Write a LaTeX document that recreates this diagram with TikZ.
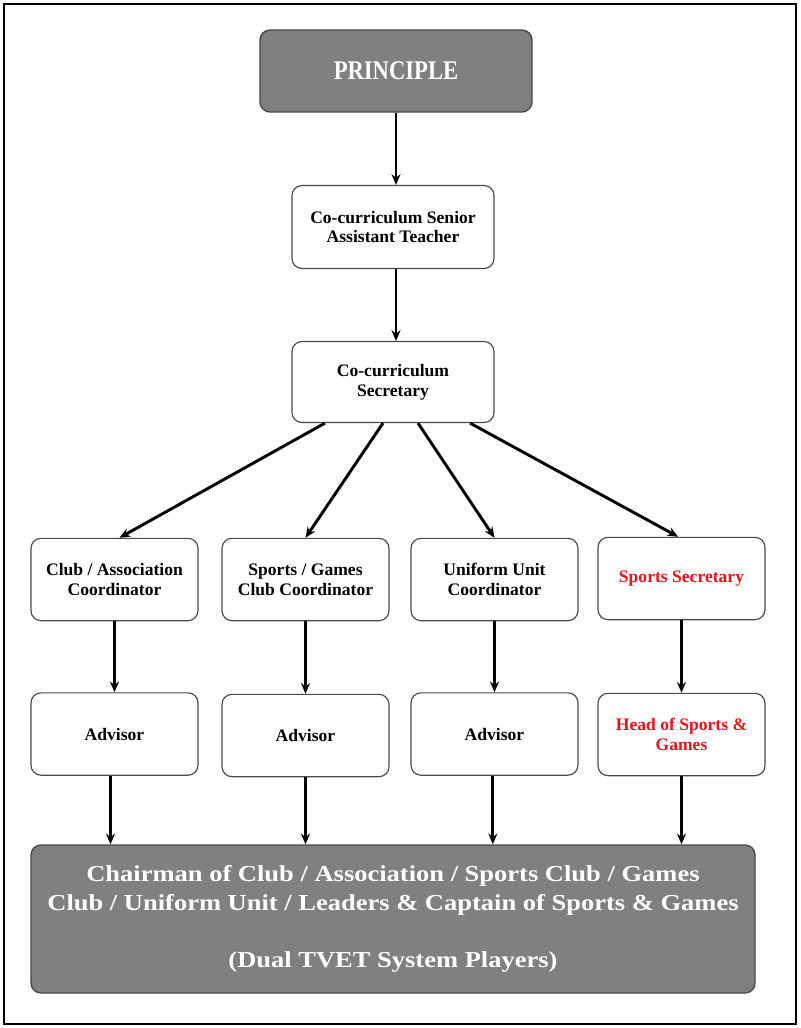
\documentclass[tikz,border=0pt]{standalone}
\usepackage{fontspec}
\setmainfont{Liberation Serif}
\newfontfamily\titlefont[FakeStretch=0.84]{Liberation Serif}
\newfontfamily\widefont[FakeStretch=1.16]{Liberation Serif}
\usetikzlibrary{arrows.meta}
\definecolor{boxgray}{HTML}{808080}
\definecolor{edgegray}{HTML}{4A4A4A}
\definecolor{postred}{HTML}{E8141B}
\tikzset{
>={Stealth[length=3.2mm,width=2.7mm]}, % arrow heads
every node/.style={align=center,font=\bfseries\fontsize{15}{17}\selectfont},
post/.style={rounded corners=0.3cm, draw=edgegray, line width=1pt, fill=white},
toppost/.style={post, fill=boxgray, text=white, line width=1.2pt},
smallpost/.style={post, minimum width=5.01cm, minimum height=2.47cm},
link/.style={->, line width=2.5pt}
}

\begin{document}
\begin{tikzpicture}[x=0.03cm,y=-0.03cm]
   \useasboundingbox (0,0) rectangle (800,1028);
   \draw[line width=1.6pt] (4,4) rectangle (796,1024);
   % top of the chart
   \node[toppost, minimum width=8.16cm, minimum height=2.46cm, font=\titlefont\bfseries\fontsize{23}{26}\selectfont] (principle) at (396,71) {PRINCIPLE};
   \node[post, minimum width=6.06cm, minimum height=2.49cm] (teacher) at (393,227) {Co-curriculum Senior\\Assistant Teacher};
   \node[post, minimum width=6.06cm, minimum height=2.43cm] (secretary) at (393,382) {Co-curriculum\\Secretary};
   % coordinators
   \node[smallpost] (clubco) at (114.5,579.5) {Club / Association\\Coordinator};
   \node[smallpost] (gamesco) at (305.5,579.5) {Sports / Games\\Club Coordinator};
   \node[smallpost] (uniformco) at (494.5,579.5) {Uniform Unit\\Coordinator};
   \node[smallpost, text=postred] (sportssec) at (681.5,578.5) {Sports Secretary};
   % advisors
   \node[smallpost] (advclub) at (114.5,734) {Advisor};
   \node[smallpost] (advgames) at (305.5,735.5) {Advisor};
   \node[smallpost] (advuniform) at (494.5,734) {Advisor};
   \node[smallpost, text=postred] (headsports) at (681.5,734.5) {Head of Sports \&\\Games};
   % students
   \node[toppost, minimum width=21.72cm, minimum height=4.44cm, font=\widefont\bfseries\fontsize{19.5}{24.7}\selectfont] (chairman) at (393,919)
     {Chairman of Club / Association / Sports Club / Games\\Club / Uniform Unit / Leaders \& Captain of Sports \& Games\\[24.7pt](Dual TVET System Players)};
   \path[link]
    (principle.south) edge (principle.south |- teacher.north)
    (teacher.south -| principle.south) edge (principle.south |- secretary.north)
    ([xshift=-2.04cm]secretary.south) edge ([xshift=0.15cm]clubco.north)
    ([xshift=-0.3cm]secretary.south) edge (gamesco.north)
    ([xshift=0.75cm]secretary.south) edge (uniformco.north)
    ([xshift=2.31cm]secretary.south) edge ([xshift=-0.1cm]sportssec.north)
    (clubco) edge (advclub)
    (gamesco) edge (advgames)
    (uniformco) edge (advuniform)
    (sportssec) edge (headsports)
    ([xshift=-0.12cm]advclub.south) edge ([xshift=-0.12cm]advclub.south |- chairman.north)
    (advgames.south) edge (advgames.south |- chairman.north)
    ([xshift=-0.05cm]advuniform.south) edge ([xshift=-0.05cm]advuniform.south |- chairman.north)
    (headsports.south) edge (headsports.south |- chairman.north);
\end{tikzpicture}
\end{document}
